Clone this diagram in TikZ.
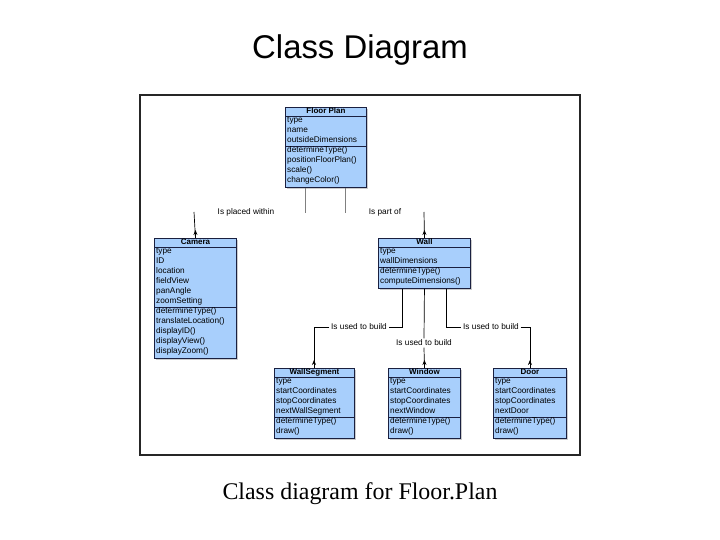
\documentclass[tikz,border=0pt]{standalone}
\usepackage{fontspec}
\setmainfont{Liberation Serif}
\newfontfamily\arialf{Liberation Sans}
\usetikzlibrary{shadows,arrows.meta}
\definecolor{umlfill}{HTML}{A8CFFC}
\definecolor{umlline}{HTML}{1A2040}
\newcommand\umlbox[9]{%
 \pgfmathsetmacro\hA{9+10*#5}\pgfmathsetmacro\hT{\hA+10*#6+1}%
 \node[box,minimum width=#4bp,minimum height=\hT bp,anchor=north west] (#1) at (#2,#3) {};
 \node[txt,font=\arialf\bfseries\fontsize{8}{9}\selectfont,anchor=north] at ([yshift=-0.8bp]#1.north) {#7};
 \draw[umlline,line width=0.7bp] (#2,#3+9) -- ++(#4,0);
 \draw[umlline,line width=0.7bp] (#2,#3+\hA) -- ++(#4,0);
 \node[txt,anchor=north west] at (#2+2,#3+9.8) {#8};
 \node[txt,anchor=north west] at (#2+2,#3+\hA+0.8) {#9};
}
\begin{document}
\begin{tikzpicture}[x=1bp,y=-1bp,
  box/.style={draw=umlline,line width=0.9bp,fill=umlfill,inner sep=0,
    drop shadow={shadow xshift=2bp,shadow yshift=-2bp,opacity=0.4}},
  txt/.style={inner sep=0,align=left,font=\arialf\fontsize{8.3}{10}\selectfont},
  lbl/.style={font=\arialf\fontsize{8.3}{9}\selectfont,fill=white,inner sep=1.5bp},
  con/.style={line width=0.7bp},
  tip/.style={-{Stealth[length=5bp,width=4bp]},line width=0.7bp}]
\path[use as bounding box] (0,0) rectangle (720,540);
\node[font=\arialf\fontsize{33}{36}\selectfont] (title) at (360,50) {Class Diagram};
\node[font=\fontsize{24}{28}\selectfont] (cap) at (360,494) {Class diagram for Floor.Plan};
\draw[line width=1.5bp,black!85] (140,95) rectangle (580,455);
\umlbox{fp}{285}{107}{81}{3}{4}{Floor Plan}{type\\name\\outsideDimensions}{determineType()\\positionFloorPlan()\\scale()\\changeColor()}
\umlbox{cam}{154}{238}{82}{6}{5}{Camera}{type\\ID\\location\\fieldView\\panAngle\\zoomSetting}{determineType()\\translateLocation()\\displayID()\\displayView()\\displayZoom()}
\umlbox{wall}{378}{238}{92}{2}{2}{Wall}{type\\wallDimensions}{determineType()\\computeDimensions()}
\umlbox{ws}{274}{368}{80}{4}{2}{WallSegment}{type\\startCoordinates\\stopCoordinates\\nextWallSegment}{determineType()\\draw()}
\umlbox{win}{388}{368}{72}{4}{2}{Window}{type\\startCoordinates\\stopCoordinates\\nextWindow}{determineType()\\draw()}
\umlbox{door}{493}{368}{73}{4}{2}{Door}{type\\startCoordinates\\stopCoordinates\\nextDoor}{determineType()\\draw()}
% labels
\node[lbl] (l1) at (246,212) {Is placed within};
\node[lbl] (l2) at (385,212) {Is part of};
\node[lbl] (l3) at (359,327) {Is used to build};
\node[lbl] (l4) at (424,343) {Is used to build};
\node[lbl] (l5) at (491,327) {Is used to build};
\coordinate (c1) at (194,212);
\coordinate (c2) at (424,212);
% connectors
\draw[con,gray] (fp.south -| 305,0) -- ++(0,25);
\draw[con,gray] (fp.south -| 345,0) -- ++(0,25);
\draw[con] (c1) -- (cam.north);
\draw[tip] (cam.north) -- ++(0,-8);
\draw[con] (c2) -- (wall.north);
\draw[tip] (wall.north) -- ++(0,-8);
\draw[con] (wall.south -| 402,0) |- (l3.east);
\draw[con] (l3.west) -| (ws.north -| 314,0);
\draw[tip] (ws.north -| 314,0) -- ++(0,-8);
\draw[con] (wall.south) -- (l4.north);
\draw[con] (l4.south) -- (win.north);
\draw[tip] (win.north) -- ++(0,-8);
\draw[con] (wall.south -| 446,0) |- (l5.west);
\draw[con] (l5.east) -| (door.north);
\draw[tip] (door.north) -- ++(0,-8);
\end{tikzpicture}
\end{document}
